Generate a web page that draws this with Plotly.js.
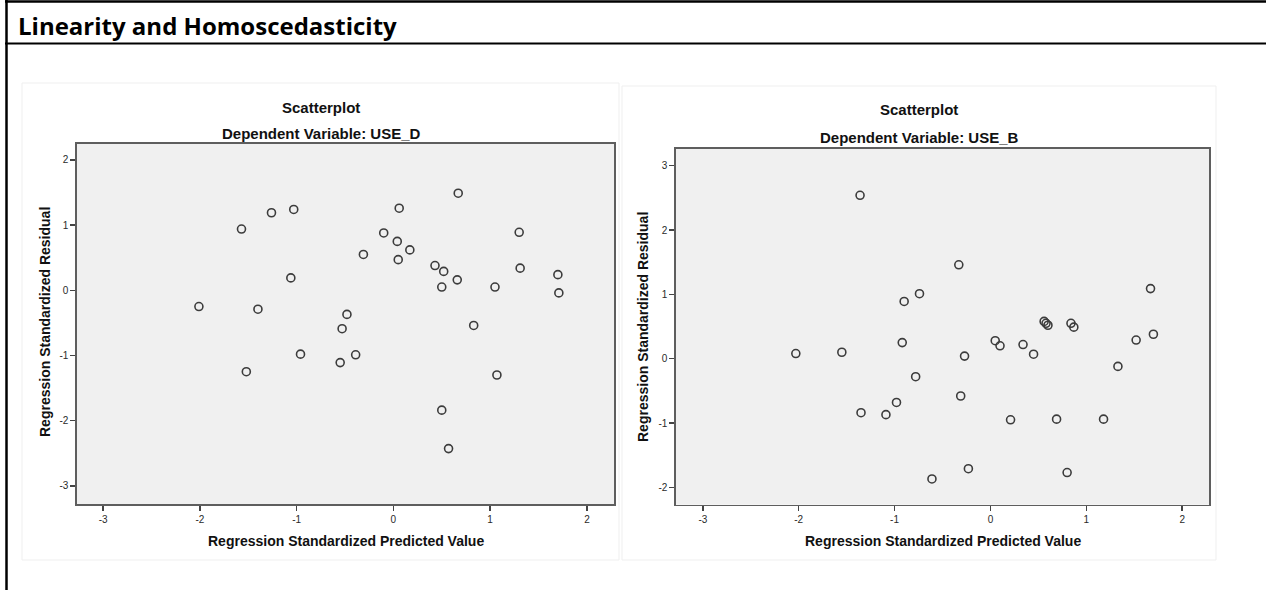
<!DOCTYPE html>
<html>
<head>
<meta charset="utf-8">
<script src="https://cdn.plot.ly/plotly-3.0.1.min.js"></script>
<style>
html,body{margin:0;padding:0;background:#fff;}
#chart{width:1266px;height:590px;}
</style>
</head>
<body>
<div id="chart"></div>
<script>
// ---- Data ----
const pageTitle = "Linearity and Homoscedasticity";
const chartTitle = "Scatterplot";
const subtitleD = "Dependent Variable: USE_D";
const subtitleB = "Dependent Variable: USE_B";
const xTitle = "Regression Standardized Predicted Value";
const yTitle = "Regression Standardized Residual";
const xTicks = [-3, -2, -1, 0, 1, 2];
const xTickText = ["-3", "-2", "-1", "0", "1", "2"];
const yTicksD = [-3, -2, -1, 0, 1, 2];
const yTickTextD = ["-3", "-2", "-1", "0", "1", "2"];
const yTicksB = [-2, -1, 0, 1, 2, 3];
const yTickTextB = ["-2", "-1", "0", "1", "2", "3"];

// USE_D: predicted (x) and residual (y)
const predD = [-2.01, -1.57, -1.52, -1.40, -1.26, -1.03, -1.06, -0.96,
  -0.31, -0.48, -0.53, -0.55, -0.39, -0.10, 0.04, 0.06,
  0.05, 0.17, 0.43, 0.52, 0.50, 0.67, 0.66, 0.83,
  0.50, 0.57, 1.05, 1.07, 1.30, 1.31, 1.70, 1.71];
const residD = [-0.25, 0.94, -1.25, -0.29, 1.19, 1.24, 0.19, -0.98,
  0.55, -0.37, -0.59, -1.11, -0.99, 0.88, 0.75, 1.26,
  0.47, 0.62, 0.38, 0.29, 0.05, 1.49, 0.16, -0.54,
  -1.84, -2.43, 0.05, -1.30, 0.89, 0.34, 0.24, -0.04];

// USE_B: predicted (x) and residual (y)
const predB = [-2.03, -1.55, -1.36, -1.35, -1.09, -0.98, -0.92, -0.90,
  -0.74, -0.78, -0.61, -0.33, -0.31, -0.27, -0.23, 0.05,
  0.10, 0.21, 0.34, 0.45, 0.56, 0.58, 0.60, 0.69,
  0.80, 0.84, 0.87, 1.18, 1.33, 1.52, 1.67, 1.70];
const residB = [0.08, 0.10, 2.54, -0.84, -0.87, -0.68, 0.25, 0.89,
  1.01, -0.28, -1.87, 1.46, -0.58, 0.04, -1.71, 0.28,
  0.20, -0.95, 0.22, 0.07, 0.58, 0.55, 0.52, -0.94,
  -1.77, 0.55, 0.49, -0.94, -0.12, 0.29, 1.09, 0.38];

// ---- Layout helpers (pixel -> paper) ----
const W = 1266, H = 590;
const px = v => v / W;
const py = v => 1 - v / H;

const markerStyle = {symbol: 'circle-open', size: 8, color: '#3c3c3c', line: {width: 1.6, color: '#3c3c3c'}};

const traces = [
  {type: 'scatter', mode: 'markers', x: predD, y: residD, xaxis: 'x', yaxis: 'y',
   marker: markerStyle, hoverinfo: 'x+y', showlegend: false},
  {type: 'scatter', mode: 'markers', x: predB, y: residB, xaxis: 'x2', yaxis: 'y2',
   marker: markerStyle, hoverinfo: 'x+y', showlegend: false}
];

const tickFont = {family: 'Liberation Sans, Arial, sans-serif', size: 10, color: '#2a2a2a'};
function axisBase(extra) {
  return Object.assign({
    showgrid: false, zeroline: false, showline: true, mirror: true,
    linecolor: '#5e5e5e', linewidth: 1.6,
    ticks: 'outside', ticklen: 5, tickwidth: 1.5, tickcolor: '#444',
    tickmode: 'array', tickfont: tickFont, fixedrange: true
  }, extra);
}

const boldFont = (s) => ({family: 'Liberation Sans, Arial, sans-serif', size: s, color: '#111'});

const annotations = [
  {text: '<b>' + pageTitle + '</b>', xref: 'paper', yref: 'paper', x: px(16), y: py(25),
   xanchor: 'left', yanchor: 'middle', showarrow: false,
   font: {family: 'Open Sans, Noto Sans, sans-serif', size: 24, color: '#000'}},
  // left chart
  {text: '<b>' + chartTitle + '</b>', xref: 'paper', yref: 'paper', x: px(321), y: py(107),
   xanchor: 'center', yanchor: 'middle', showarrow: false, font: boldFont(15)},
  {text: '<b>' + subtitleD + '</b>', xref: 'paper', yref: 'paper', x: px(321), y: py(134),
   xanchor: 'center', yanchor: 'middle', showarrow: false, font: boldFont(15)},
  {text: '<b>' + xTitle + '</b>', xref: 'paper', yref: 'paper', x: px(346), y: py(541),
   xanchor: 'center', yanchor: 'middle', showarrow: false, font: boldFont(14)},
  {text: '<b>' + yTitle + '</b>', xref: 'paper', yref: 'paper', x: px(45), y: py(322),
   xanchor: 'center', yanchor: 'middle', showarrow: false, textangle: -90, font: boldFont(14)},
  // right chart
  {text: '<b>' + chartTitle + '</b>', xref: 'paper', yref: 'paper', x: px(919), y: py(110),
   xanchor: 'center', yanchor: 'middle', showarrow: false, font: boldFont(15)},
  {text: '<b>' + subtitleB + '</b>', xref: 'paper', yref: 'paper', x: px(919), y: py(137),
   xanchor: 'center', yanchor: 'middle', showarrow: false, font: boldFont(15)},
  {text: '<b>' + xTitle + '</b>', xref: 'paper', yref: 'paper', x: px(943), y: py(541),
   xanchor: 'center', yanchor: 'middle', showarrow: false, font: boldFont(14)},
  {text: '<b>' + yTitle + '</b>', xref: 'paper', yref: 'paper', x: px(643), y: py(327),
   xanchor: 'center', yanchor: 'middle', showarrow: false, textangle: -90, font: boldFont(14)}
];

const shapes = [
  // table borders
  {type: 'line', xref: 'paper', yref: 'paper', x0: px(5), x1: 1, y0: py(1.5), y1: py(1.5), line: {color: '#000', width: 2.5}},
  {type: 'line', xref: 'paper', yref: 'paper', x0: px(6.5), x1: px(6.5), y0: 0, y1: py(0), line: {color: '#000', width: 2.5}},
  {type: 'line', xref: 'paper', yref: 'paper', x0: px(5), x1: 1, y0: py(43.5), y1: py(43.5), line: {color: '#000', width: 2}},
  // faint chart panels
  {type: 'rect', xref: 'paper', yref: 'paper', x0: px(22), x1: px(619), y0: py(560), y1: py(83),
   line: {color: '#efefef', width: 1}, fillcolor: 'rgba(0,0,0,0)', layer: 'below'},
  {type: 'rect', xref: 'paper', yref: 'paper', x0: px(622), x1: px(1216), y0: py(560), y1: py(86),
   line: {color: '#efefef', width: 1}, fillcolor: 'rgba(0,0,0,0)', layer: 'below'}
];

const layout = {
  width: W, height: H,
  margin: {l: 0, r: 0, t: 0, b: 0, pad: 0},
  paper_bgcolor: '#ffffff',
  plot_bgcolor: '#f0f0f0',
  showlegend: false,
  xaxis: axisBase({domain: [px(77), px(614)], range: [-3.27, 2.28], tickvals: xTicks, ticktext: xTickText, anchor: 'y'}),
  yaxis: axisBase({domain: [py(504), py(144)], range: [-3.28, 2.245], tickvals: yTicksD, ticktext: yTickTextD, anchor: 'x'}),
  xaxis2: axisBase({domain: [px(676), px(1209)], range: [-3.28, 2.28], tickvals: xTicks, ticktext: xTickText, anchor: 'y2'}),
  yaxis2: axisBase({domain: [py(504.7), py(149)], range: [-2.27, 3.26], tickvals: yTicksB, ticktext: yTickTextB, anchor: 'x2'}),
  annotations: annotations,
  shapes: shapes
};

Plotly.newPlot('chart', traces, layout, {displayModeBar: false, staticPlot: true});
</script>
</body>
</html>
